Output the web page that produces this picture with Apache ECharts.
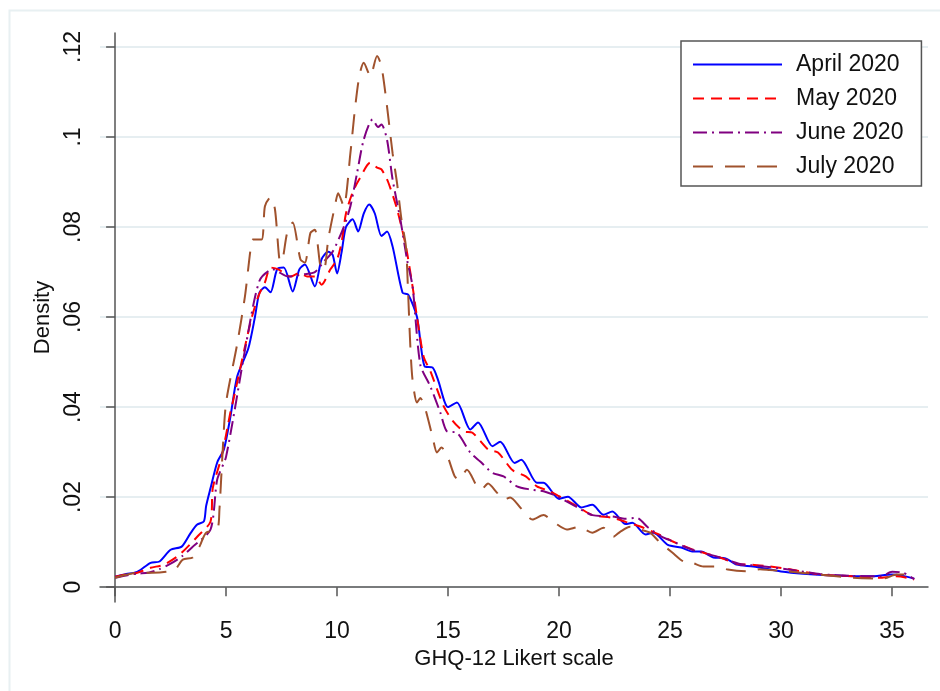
<!DOCTYPE html>
<html>
<head>
<meta charset="utf-8">
<script src="https://cdn.jsdelivr.net/npm/echarts@6/dist/echarts.min.js"></script>
<style>
  html, body { margin: 0; padding: 0; background: #fff; }
  #main { width: 940px; height: 691px; }
</style>
</head>
<body>
<div id="main"></div>
<script>
// 数据：GHQ-12 Likert 分数的核密度 [x, density]
var seriesNames = ['April 2020', 'May 2020', 'June 2020', 'July 2020'];
var xTicks = [0, 5, 10, 15, 20, 25, 30, 35];
var yTicks = [0, 0.02, 0.04, 0.06, 0.08, 0.1, 0.12];

var april = [[0,0.0023],[0.5,0.0029],[1,0.0034],[1.6,0.0054],[2,0.0057],[2.5,0.0083],[3,0.0090],[3.4,0.0120],[3.7,0.0139],[4,0.0146],[4.1,0.018],[4.3,0.022],[4.6,0.0277],[4.9,0.0306],[5.2,0.038],[5.5,0.0468],[6,0.053],[6.3,0.060],[6.5,0.0654],[6.75,0.0666],[7,0.0655],[7.3,0.0706],[7.6,0.0710],[8,0.0657],[8.3,0.0706],[8.55,0.0717],[9,0.0668],[9.3,0.0728],[9.6,0.0745],[9.8,0.0738],[10,0.0697],[10.2,0.0743],[10.4,0.080],[10.7,0.0817],[10.95,0.079],[11.2,0.083],[11.45,0.085],[11.7,0.083],[12,0.078],[12.25,0.079],[12.5,0.0757],[12.95,0.0654],[13.2,0.065],[13.6,0.060],[13.95,0.049],[14.3,0.0488],[14.55,0.046],[15,0.040],[15.4,0.041],[16,0.035],[16.35,0.0366],[17,0.0313],[17.35,0.0323],[18,0.0276],[18.3,0.0283],[19,0.0232],[19.3,0.0232],[20,0.0196],[20.4,0.0201],[21,0.0177],[21.5,0.0183],[22,0.0161],[22.4,0.0168],[23,0.0140],[23.3,0.0143],[23.9,0.0117],[24.25,0.0121],[24.9,0.0094],[25.5,0.0088],[26,0.0079],[26.4,0.0079],[26.95,0.0066],[27.5,0.0064],[28,0.0050],[28.75,0.0046],[30,0.0035],[31,0.0030],[32.5,0.0026],[34,0.0024],[35,0.0028],[35.5,0.0025],[36,0.0019]];

var may = [[0,0.0023],[0.5,0.0028],[1,0.0032],[1.6,0.0043],[2.2,0.005],[2.9,0.0072],[3.7,0.0112],[4.3,0.0146],[4.4,0.022],[4.8,0.029],[5.2,0.039],[5.3,0.041],[6.1,0.0588],[6.45,0.0646],[6.75,0.0677],[7,0.071],[7.35,0.0706],[7.9,0.069],[8.3,0.0698],[8.65,0.069],[9,0.069],[9.3,0.0672],[9.7,0.0706],[10,0.0728],[10.2,0.0765],[10.4,0.083],[10.7,0.0877],[11,0.0906],[11.5,0.0943],[11.8,0.0932],[12,0.0928],[12.3,0.090],[12.7,0.084],[13.1,0.0757],[13.4,0.0668],[13.6,0.060],[13.9,0.0512],[14.2,0.048],[14.8,0.0402],[15.2,0.037],[15.7,0.0346],[16.1,0.0343],[16.8,0.0306],[17.25,0.0299],[17.9,0.026],[18.5,0.0246],[19,0.0224],[19.6,0.0213],[20,0.0202],[20.8,0.018],[21.5,0.016],[22.4,0.0154],[23,0.0145],[23.8,0.0132],[24.5,0.0117],[25.1,0.0102],[26,0.0084],[27.25,0.0066],[28.1,0.0051],[28.7,0.0050],[29.5,0.0046],[30.25,0.0041],[31.75,0.0028],[33.25,0.0024],[34.5,0.0021],[35.2,0.0024],[36,0.0017]];

var june = [[0,0.0021],[0.5,0.0026],[1,0.0030],[1.5,0.0032],[2,0.0040],[2.5,0.0052],[3,0.0068],[3.5,0.0090],[4.3,0.0128],[4.6,0.0239],[5,0.029],[5.9,0.054],[6.5,0.068],[7.1,0.0706],[7.8,0.069],[8.5,0.0695],[9,0.070],[9.4,0.0723],[9.8,0.0745],[10.3,0.080],[10.6,0.0846],[10.9,0.092],[11.2,0.0994],[11.6,0.1039],[11.85,0.1022],[12,0.1028],[12.25,0.0994],[12.5,0.0906],[12.85,0.0817],[13.15,0.0728],[13.4,0.0668],[13.75,0.0494],[14.2,0.0446],[14.65,0.0388],[14.95,0.0346],[15.4,0.0343],[16,0.0299],[16.45,0.0279],[17,0.0254],[17.5,0.0246],[18.1,0.0224],[18.7,0.0217],[19.3,0.0213],[19.9,0.0202],[20.8,0.0178],[21.5,0.016],[22.4,0.0157],[23,0.0152],[23.5,0.0154],[24,0.0133],[24.6,0.0113],[25.1,0.0102],[26,0.0083],[27.25,0.0066],[28.1,0.0052],[29,0.0047],[30.25,0.0040],[31.75,0.0029],[33.25,0.0025],[34.5,0.0024],[35,0.0034],[35.5,0.0032],[36,0.0018]];

var july = [[0,0.0021],[1,0.0032],[1.7,0.0032],[2.3,0.0034],[2.7,0.0039],[3.05,0.0061],[3.5,0.0066],[3.8,0.009],[4.1,0.0121],[4.6,0.0128],[4.7,0.0172],[4.85,0.0306],[5.0,0.041],[5.5,0.054],[5.85,0.0646],[6.1,0.075],[6.2,0.0772],[6.6,0.0772],[6.75,0.0846],[7,0.0866],[7.2,0.084],[7.4,0.0728],[7.5,0.0723],[7.75,0.0787],[8,0.081],[8.35,0.0728],[8.55,0.0721],[8.8,0.0787],[9,0.0794],[9.3,0.0706],[9.45,0.071],[9.6,0.0772],[9.9,0.0846],[10.05,0.0875],[10.3,0.0846],[10.6,0.0964],[10.8,0.106],[11,0.1135],[11.2,0.1165],[11.5,0.1135],[11.8,0.118],[12,0.1157],[12.25,0.1068],[12.5,0.0964],[12.7,0.0898],[12.9,0.0817],[13.1,0.0757],[13.2,0.0654],[13.3,0.0535],[13.4,0.046],[13.6,0.041],[13.75,0.042],[13.95,0.040],[14.3,0.0334],[14.5,0.0299],[14.7,0.031],[14.95,0.0294],[15.3,0.0246],[15.5,0.0239],[15.85,0.0261],[16.3,0.0224],[16.5,0.0217],[16.8,0.023],[17.2,0.021],[17.5,0.0194],[17.8,0.0199],[18.25,0.0177],[18.8,0.015],[19.3,0.016],[19.8,0.0143],[20.35,0.0128],[20.9,0.0134],[21.5,0.0121],[22,0.0132],[22.45,0.0112],[22.75,0.0123],[23.2,0.0134],[23.65,0.0128],[24.1,0.0121],[24.55,0.0099],[25.1,0.0077],[25.6,0.0057],[26,0.0054],[26.5,0.0046],[27.1,0.0046],[27.6,0.0039],[28.5,0.0035],[29.05,0.0040],[29.5,0.0038],[30.25,0.0035],[31.75,0.0028],[33.25,0.0021],[34.6,0.0019],[35.2,0.0028],[35.7,0.0028],[36,0.0017]];

var FONT = '"Liberation Sans", Arial, sans-serif';
var axisColor = '#555555';
var gridColor = '#e6eef1';

var myChart = echarts.init(document.getElementById('main'), null, { renderer: 'canvas' });

function lineSeries(name, data, color, dash) {
    return {
        name: name,
        type: 'line',
        data: data,
        symbol: 'none',
        smooth: 0.25,
        lineStyle: { color: color, width: 2, type: dash },
        itemStyle: { color: color },
        z: 3
    };
}

var option = {
    animation: false,
    backgroundColor: '#ffffff',
    graphic: [{
        type: 'rect',
        left: 7, top: 8,
        shape: { width: 1000, height: 1000 },
        style: { fill: 'none', stroke: '#e8f0f2', lineWidth: 2 },
        silent: true
    }],
    grid: { left: 100, right: 12, top: 33, bottom: 89 },
    legend: {
        data: seriesNames,
        orient: 'vertical',
        left: 681, top: 41,
        padding: [12, 18, 8, 11],
        itemGap: 11,
        itemWidth: 89,
        itemHeight: 14,
        itemStyle: { opacity: 0 },
        borderColor: '#555555',
        borderWidth: 1.5,
        backgroundColor: '#ffffff',
        textStyle: { fontFamily: FONT, fontSize: 23, color: '#111', lineHeight: 20, padding: [0, 0, 0, 9] }
    },
    xAxis: {
        type: 'value',
        min: -0.68, max: 36.62,
        name: 'GHQ-12 Likert scale',
        nameLocation: 'middle',
        nameGap: 45,
        nameTextStyle: { fontFamily: FONT, fontSize: 22, color: '#111' },
        axisLine: { show: true, lineStyle: { color: axisColor, width: 1.5 } },
        axisTick: { show: true, length: 9, customValues: xTicks, lineStyle: { color: axisColor, width: 1.5 } },
        axisLabel: { customValues: xTicks, margin: 18, fontFamily: FONT, fontSize: 23, color: '#111' },
        splitLine: { show: false }
    },
    yAxis: {
        type: 'value',
        min: -0.0033, max: 0.1231,
        name: 'Density',
        nameLocation: 'middle',
        nameGap: 41,
        nameTextStyle: { fontFamily: FONT, fontSize: 22, color: '#111' },
        axisLine: { show: true, lineStyle: { color: axisColor, width: 1.5 } },
        axisTick: { show: true, length: 9, customValues: yTicks, lineStyle: { color: axisColor, width: 1.5 } },
        axisLabel: {
            customValues: yTicks, rotate: 90, margin: 15,
            fontFamily: FONT, fontSize: 23, color: '#111',
            formatter: function (v) {
                if (v === 0) return '0';
                return String(+v.toFixed(2)).replace(/^0\./, '.');
            }
        },
        splitLine: { show: true, lineStyle: { color: gridColor, width: 2 } }
    },
    series: [
        lineSeries(seriesNames[0], april, '#0000ff', 'solid'),
        lineSeries(seriesNames[1], may, '#ff0000', [11, 7]),
        lineSeries(seriesNames[2], june, '#800080', [14, 5, 2, 5]),
        lineSeries(seriesNames[3], july, '#a0522d', [20, 12])
    ]
};

myChart.setOption(option);
</script>
</body>
</html>
